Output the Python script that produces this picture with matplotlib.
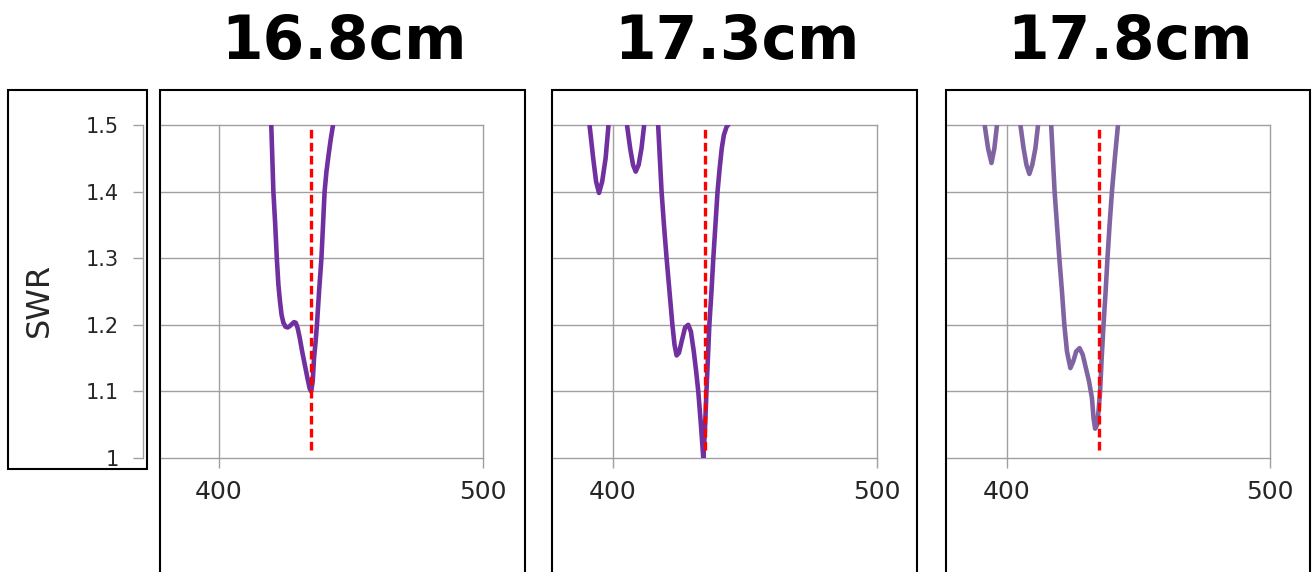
import numpy as np
import matplotlib
matplotlib.use("Agg")
import matplotlib.pyplot as plt
from matplotlib.patches import Rectangle

plt.rcParams["font.family"] = ["DejaVu Sans"]

W, H = 1314, 572
titles = ["16.8cm", "17.3cm", "17.8cm"]
y_ticks = [1.0, 1.1, 1.2, 1.3, 1.4, 1.5]
y_tick_labels = ["1", "1.1", "1.2", "1.3", "1.4", "1.5"]
x_ticks = [400, 500]
x_tick_labels = ["400", "500"]
y_label = "SWR"
marker_freq = 435
marker_y = [1.012, 1.5]

nan = np.nan
x1 = [419.8, 420.6, 421.3, 421.9, 422.5, 423.1, 423.7, 424.4, 425.2, 426.0, 426.8, 427.6,
      428.4, 429.1, 429.8, 430.6, 431.5, 432.5, 433.5, 434.3, 434.9, 435.5, 436.0, 436.6,
      437.1, 437.9, 438.8, 439.4, 440.0, 440.7, 441.5, 442.3, 443.2]
y1 = [1.5, 1.4, 1.35, 1.3, 1.26, 1.235, 1.215, 1.203, 1.197, 1.196, 1.198, 1.201,
      1.204, 1.203, 1.195, 1.18, 1.16, 1.14, 1.12, 1.105, 1.10, 1.115, 1.15, 1.175,
      1.2, 1.25, 1.3, 1.35, 1.4, 1.43, 1.455, 1.478, 1.5]

x2 = [391.1, 392.5, 393.6, 394.7, 395.9, 397.2, 398.3, nan,
      405.3, 406.5, 407.6, 408.6, 409.7, 410.8, 411.8, nan,
      417.1, 418.4, 419.3, 420.3, 421.4, 422.5, 423.3, 424.1, 425.0, 426.0, 427.3, 428.5,
      429.5, 430.6, 431.5, 432.3, 433.3, 434.2, 434.8, 435.4, 436.5, 437.3, 438.0, 438.8,
      439.6, 440.4, 441.2, 442.0, 443.0, 444.5]
y2 = [1.5, 1.45, 1.415, 1.398, 1.415, 1.45, 1.5, nan,
      1.5, 1.465, 1.44, 1.43, 1.44, 1.465, 1.5, nan,
      1.5, 1.4, 1.35, 1.3, 1.25, 1.2, 1.17, 1.154, 1.158, 1.175, 1.196, 1.2,
      1.19, 1.16, 1.13, 1.1, 1.05, 1.0, 1.04, 1.1, 1.2, 1.25, 1.3, 1.35,
      1.4, 1.435, 1.465, 1.485, 1.497, 1.505]

x3 = [391.5, 392.8, 394.1, 395.2, 396.2, nan,
      405.1, 406.3, 407.4, 408.5, 409.6, 410.8, 411.8, nan,
      416.8, 418.1, 419.0, 419.9, 420.9, 421.8, 422.8, 424.1, 425.2, 426.3, 427.6, 428.8,
      430.0, 431.2, 432.3, 432.9, 433.5, 434.3, 434.9, 435.4, 436.0, 436.7, 437.5, 438.2,
      439.0, 439.9, 441.0, 442.2]
y3 = [1.5, 1.465, 1.443, 1.465, 1.5, nan,
      1.5, 1.465, 1.44, 1.4265, 1.44, 1.465, 1.5, nan,
      1.5, 1.4, 1.35, 1.3, 1.25, 1.2, 1.16, 1.135, 1.145, 1.16, 1.165, 1.155,
      1.135, 1.115, 1.09, 1.06, 1.044, 1.05, 1.075, 1.1, 1.15, 1.2, 1.25, 1.3,
      1.35, 1.4, 1.45, 1.5]

series_x = [x1, x2, x3]
series_y = [y1, y2, y3]
line_colors = ["#7030A0", "#7030A0", "#8064A2"]

# layout (pixels)
boxes = [(160, 525), (552, 917), (946, 1310)]
x400_px = [219, 613, 1007]
x500_px = [483, 877, 1270]
box_top = 90
y_top_px, y_bot_px = 125, 458

grid_c = "#A0A0A0"
text_c = "#262626"

fig = plt.figure(figsize=(W / 100, H / 100), dpi=100)

def fx(px):
    return px / W

def fy(py):
    return 1 - py / H

for i in range(3):
    bl, br = boxes[i]
    p4, p5 = x400_px[i], x500_px[i]
    ax = fig.add_axes([fx(bl + 1), fy(y_bot_px), fx(p5 - bl - 1), (y_bot_px - y_top_px) / H])
    xmin = 400 - (p4 - bl - 1) / (p5 - p4) * 100
    ax.set_xlim(xmin, 500)
    ax.set_ylim(1.0, 1.5)
    for s in ax.spines.values():
        s.set_visible(False)
    for yv in y_ticks:
        ax.axhline(yv, color=grid_c, lw=1.0, clip_on=False, zorder=1)
    for xv in x_ticks:
        ax.axvline(xv, color=grid_c, lw=1.0, clip_on=False, zorder=1)
    ax.set_xticks(x_ticks)
    ax.set_xticklabels(x_tick_labels)
    ax.tick_params(axis="x", length=7.5, width=1.0, color=grid_c, direction="out",
                   pad=8, labelsize=18, labelcolor=text_c)
    ax.set_yticks([])
    ax.plot(series_x[i], series_y[i], color=line_colors[i], lw=3.3,
            solid_capstyle="butt", solid_joinstyle="round", zorder=3)
    ax.plot([marker_freq, marker_freq], marker_y, color="#FF0000", lw=2.4,
            ls=(0, (2.6, 1.3)), zorder=4)
    # panel box
    fig.add_artist(Rectangle((fx(bl), -0.1), fx(br - bl), fy(box_top) + 0.1,
                             transform=fig.transFigure, fill=False, ec="black", lw=1.5))
    fig.text(fx((bl + br) / 2 + 2), fy(42), titles[i], ha="center", va="center",
             fontsize=43, fontweight="bold", color="black", family=["DejaVu Sans"])

# y-axis box
fig.add_artist(Rectangle((fx(8), fy(469)), fx(147 - 8), (469 - 90) / H,
                         transform=fig.transFigure, fill=False, ec="black", lw=1.5))
yax = fig.add_axes([fx(143), fy(y_bot_px), fx(1), (y_bot_px - y_top_px) / H])
yax.set_ylim(1.0, 1.5)
yax.set_xticks([])
for k, s in yax.spines.items():
    s.set_visible(k == "left")
yax.spines["left"].set_color(grid_c)
yax.spines["left"].set_linewidth(1.0)
yax.set_yticks(y_ticks)
yax.set_yticklabels(y_tick_labels)
yax.tick_params(axis="y", length=7.5, width=1.0, color=grid_c, direction="out",
                pad=10, labelsize=15, labelcolor=text_c)
yax.patch.set_visible(False)
fig.text(fx(39), fy(300), y_label, rotation=90, ha="center", va="center",
         fontsize=23, color=text_c)

fig.savefig("out.png", dpi=100)
